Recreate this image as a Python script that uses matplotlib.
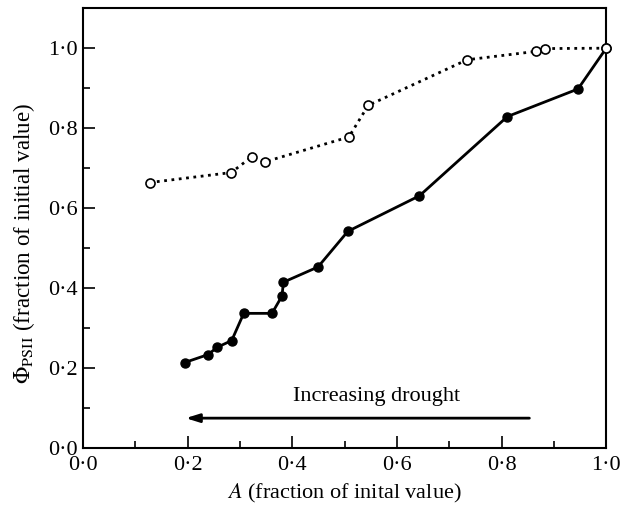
import matplotlib
matplotlib.use("Agg")
import matplotlib.pyplot as plt
from matplotlib.ticker import MultipleLocator, FuncFormatter

plt.rcParams['font.family'] = ['Liberation Serif', 'DejaVu Serif']
plt.rcParams['mathtext.fontset'] = 'stix'

# Well-watered reference (open circles, dotted)
a_open = [0.127, 0.283, 0.322, 0.348, 0.508, 0.545, 0.734, 0.866, 0.883, 1.0]
phi_open = [0.664, 0.689, 0.728, 0.716, 0.778, 0.857, 0.971, 0.992, 0.999, 1.0]

# Drought series (filled circles, solid)
a_filled = [0.194, 0.239, 0.256, 0.284, 0.307, 0.361, 0.380, 0.383, 0.449,
            0.506, 0.643, 0.811, 0.946, 1.0]
phi_filled = [0.214, 0.234, 0.252, 0.269, 0.337, 0.337, 0.380, 0.415, 0.453,
              0.542, 0.631, 0.829, 0.898, 1.0]

fig = plt.figure(figsize=(6.25, 5.11), dpi=100)
ax = fig.add_axes([0.133, 0.123, 0.837, 0.861])

ax.plot(a_filled, phi_filled, '-', color='black', lw=2.0, marker='o',
        ms=6.5, mfc='black', mec='black', zorder=3, clip_on=False)
ax.plot(a_open, phi_open, ':', color='black', lw=2.0, marker='o',
        ms=6.5, mfc='white', mec='black', mew=1.2, zorder=4, clip_on=False)

ax.set_xlim(0, 1.0)
ax.set_ylim(0, 1.1)

fmt = FuncFormatter(lambda v, p: f"{v:.1f}".replace('.', '\u00b7'))
for axis in (ax.xaxis, ax.yaxis):
    axis.set_major_locator(MultipleLocator(0.2))
    axis.set_minor_locator(MultipleLocator(0.1))
    axis.set_major_formatter(fmt)

ax.tick_params(which='major', direction='in', length=8.5, width=1.2,
               labelsize=16, top=False, right=False)
ax.tick_params(which='minor', direction='in', length=5, width=1.2,
               top=False, right=False)
ax.tick_params(axis='x', which='major', pad=6)
ax.tick_params(axis='y', which='major', pad=4)
for s in ax.spines.values():
    s.set_linewidth(1.5)

ax.set_xlabel(r'$\it{A}$ (fraction of inital value)', fontsize=16, labelpad=5)
ax.set_ylabel(r'$\Phi_{\rm PSII}$ (fraction of initial value)', fontsize=16.6,
              labelpad=8, y=0.466)

ax.annotate('', xy=(0.196, 0.075), xytext=(0.853, 0.075),
            arrowprops=dict(arrowstyle='-|>,head_length=0.8,head_width=0.25',
                            color='black', lw=2.0, shrinkA=0, shrinkB=0))
ax.text(0.56, 0.128, 'Increasing drought', ha='center', va='center',
        fontsize=16)

fig.savefig('out.png', dpi=100)
